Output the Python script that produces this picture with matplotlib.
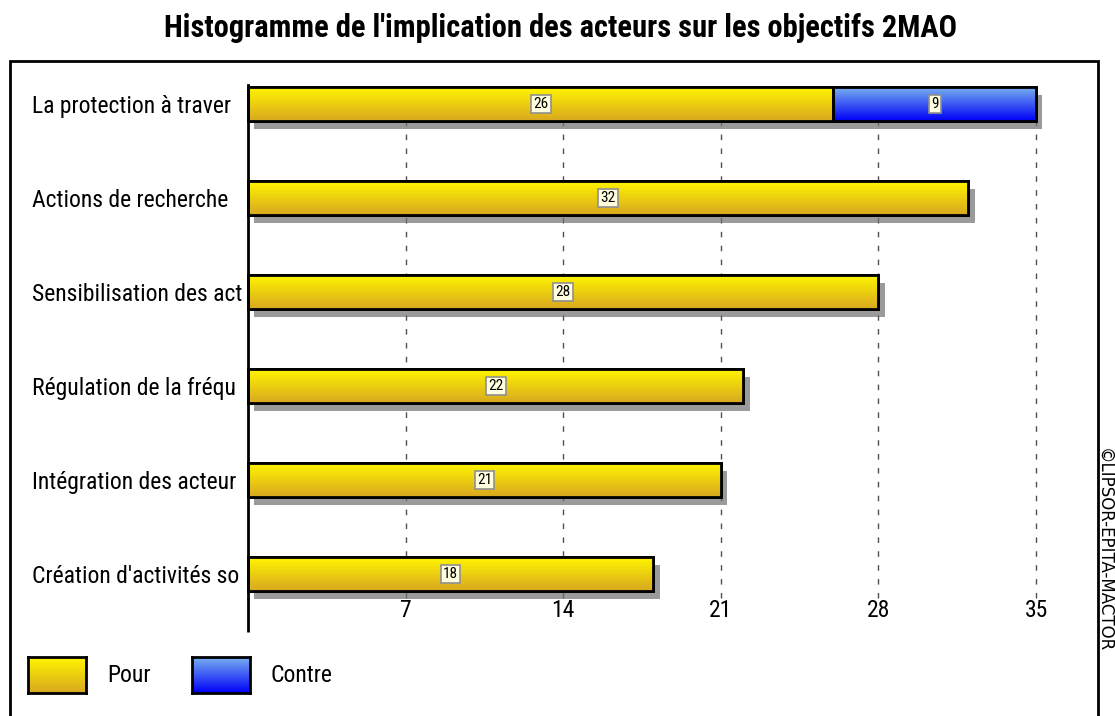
import numpy as np
import matplotlib
matplotlib.use('Agg')
import matplotlib.pyplot as plt
import matplotlib.patheffects as pe
from matplotlib.patches import Rectangle
from matplotlib.colors import LinearSegmentedColormap

# données
titre = "Histogramme de l'implication des acteurs sur les objectifs 2MAO"
objectifs = ["La protection à traver", "Actions de recherche", "Sensibilisation des act",
             "Régulation de la fréqu", "Intégration des acteur", "Création d'activités so"]
pour = [26, 32, 28, 22, 21, 18]
contre = [9, 0, 0, 0, 0, 0]
graduations = [7, 14, 21, 28, 35]

plt.rcParams['font.family'] = ['Roboto Condensed', 'DejaVu Sans']

jaune = LinearSegmentedColormap.from_list('jaune', ['#FFF500', '#D8A820'])
bleu = LinearSegmentedColormap.from_list('bleu', ['#78B0F0', '#0000F8'])

fig = plt.figure(figsize=(11.15, 7.16), dpi=100)
W, H = 1115, 716
ax = fig.add_axes([248 / W, 1 - 598 / H, (1036 - 248) / W, (598 - 85) / H])

y = np.arange(len(objectifs))
ombre = [pe.SimplePatchShadow(offset=(4.5, -5.5), shadow_rgbFace='#707070', alpha=0.7), pe.Normal()]

b1 = ax.barh(y, pour, height=0.36, color='none', edgecolor='black', linewidth=2, zorder=3)
b2 = ax.barh(y, contre, left=pour, height=0.36, color='none', edgecolor='black', linewidth=2, zorder=3)

grad = np.linspace(0, 1, 64).reshape(-1, 1)
for barres, cmap, vals in [(b1, jaune, pour), (b2, bleu, contre)]:
    for p, v in zip(barres.patches, vals):
        if v == 0:
            p.set_visible(False)
            continue
        p.set_facecolor('white')
        p.set_path_effects(ombre)
        p.set_clip_on(False)
        x0, y0 = p.get_x(), p.get_y()
        im = ax.imshow(grad, cmap=cmap, aspect='auto', origin='upper',
                       extent=[x0, x0 + p.get_width(), y0 + p.get_height(), y0], zorder=3.5)
        im.set_clip_path(p)
        # contour par-dessus le dégradé
        ax.add_patch(Rectangle((x0, y0), p.get_width(), p.get_height(), fill=False,
                               edgecolor='black', linewidth=2, zorder=4, clip_on=False))
        ax.text(x0 + p.get_width() / 2, y0 + p.get_height() / 2, str(v), ha='center', va='center',
                fontsize=11, zorder=5,
                bbox=dict(boxstyle='square,pad=0.15', facecolor='#FFFFE0', edgecolor='#909090', linewidth=1.2))

ax.set_xlim(0, 35)
ax.set_ylim(5.255, -0.202)
ax.set_xticks(graduations)
ax.set_xticklabels([str(g) for g in graduations], fontsize=17)
ax.set_yticks(y)
ax.set_yticklabels(objectifs, fontsize=17)
for t in ax.get_yticklabels():
    t.set_ha('left')
ax.tick_params(axis='y', length=0, pad=155.5)
ax.tick_params(axis='x', length=0, pad=1)
ax.grid(axis='x', linestyle=(0, (4, 6)), color='#505050', linewidth=1, zorder=1)
for gl in ax.get_xgridlines():
    gl.set_clip_on(False)
for s in ['top', 'right', 'bottom']:
    ax.spines[s].set_visible(False)
ax.spines['left'].set_linewidth(2)
ax.spines['left'].set_zorder(6)
# l'axe vertical descend sous les graduations
ax.plot([0, 0], [0, -(632 - 598) / (598 - 85)], transform=ax.transAxes, color='black',
        linewidth=2, clip_on=False, solid_capstyle='butt')

fig.text(560 / W, 1 - 28 / H, titre, ha='center', va='center', fontsize=22, fontweight='bold')

# cadre
fig.add_artist(Rectangle((10 / W, -0.05), (1098 - 10) / W, 1.05 - 61 / H, transform=fig.transFigure,
                         fill=False, edgecolor='black', linewidth=2))

# légende
for x0, cmap, nom in [(28, jaune, 'Pour'), (192, bleu, 'Contre')]:
    lax = fig.add_axes([x0 / W, 1 - 693 / H, 58 / W, 36 / H])
    lax.imshow(grad, cmap=cmap, aspect='auto')
    lax.set_xticks([])
    lax.set_yticks([])
    for s in lax.spines.values():
        s.set_linewidth(2)
    fig.text((x0 + 79) / W, 1 - 675 / H, nom, ha='left', va='center', fontsize=17)

fig.text(1104 / W, 1 - 448 / H, '©LIPSOR-EPITA-MACTOR', rotation=-90, ha='center', va='top',
         fontsize=12, family='DejaVu Sans')

fig.savefig('out.png', dpi=100)
